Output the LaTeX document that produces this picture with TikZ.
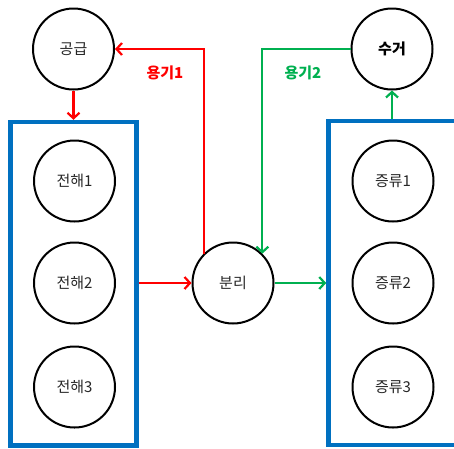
\documentclass[tikz,border=0pt]{standalone}
\usepackage{fontspec}
\setmainfont{Noto Sans CJK KR}
\usetikzlibrary{arrows.meta}
\definecolor{boxblue}{HTML}{0070C0}
\definecolor{flowred}{HTML}{FF0000}
\definecolor{flowgreen}{HTML}{00B050}
\tikzset{
  unit/.style={circle, draw=black, line width=2pt, minimum size=81pt, inner sep=0pt,
    font=\fontsize{15}{17}\selectfont, text=black!85},
  group/.style={draw=boxblue, line width=4.5pt, inner sep=0pt},
  flow/.style={line width=2.2pt, -{Straight Barb[length=5.5pt,width=12pt,line width=2.2pt]}},
  tag/.style={font=\fontsize{15}{17}\selectfont\bfseries}
}
\begin{document}
\begin{tikzpicture}[x=1pt,y=-1pt]
\useasboundingbox (0,0) rectangle (454,448);
% process groups
\node[group, minimum width=126pt, minimum height=323.5pt] (left) at (73.5,283.75) {};
\node[group, minimum width=128pt, minimum height=324pt] (right) at (392.5,283) {};
% units
\node[unit] (supply) at (73.5,49) {공급};
\node[unit, font=\fontsize{15}{17}\selectfont\bfseries, text=black] (collect) at (392,49) {수거};
\node[unit] (e1) at (74.5,181) {전해1};
\node[unit] (e2) at (74.5,283) {전해2};
\node[unit] (e3) at (74.5,387) {전해3};
\node[unit] (sep) at (233,283) {분리};
\node[unit] (d1) at (393,181) {증류1};
\node[unit] (d2) at (393,283) {증류2};
\node[unit] (d3) at (393,387) {증류3};
% red circuit
\draw[flow, flowred] (supply.south) -- (supply.south |- left.north);
\draw[flow, flowred] (left.east |- sep.west) -- (sep.west);
\draw[flow, flowred] (sep.135) |- (supply.east);
\node[tag, text=flowred] (t1) at (165,73) {용기1};
% green circuit
\draw[flow, flowgreen] (sep.east) -- (right.west |- sep.east);
\draw[flow, flowgreen] (collect.south |- right.north) -- (collect.south);
\draw[flow, flowgreen] (collect.west) -| (sep.45);
\node[tag, text=flowgreen] (t2) at (303,73) {용기2};
\end{tikzpicture}
\end{document}
